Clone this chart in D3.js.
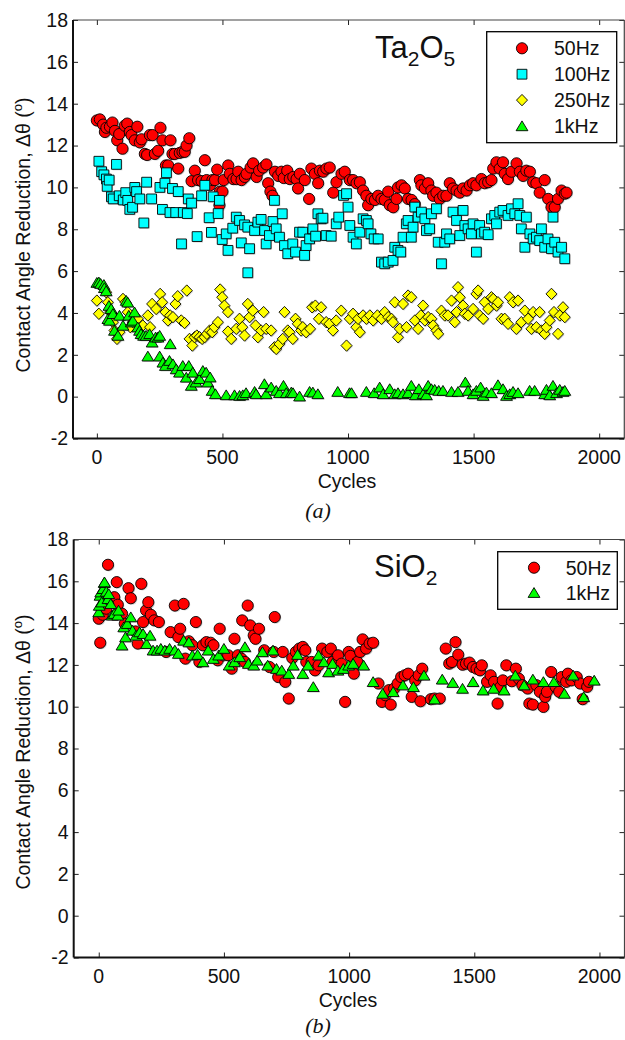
<!DOCTYPE html>
<html><head><meta charset="utf-8">
<script src="https://cdn.jsdelivr.net/npm/d3@7"></script>
<style>body{margin:0;background:#fff}svg{display:block}text{font-family:"Liberation Sans",Arial,Helvetica,sans-serif;fill:#111}</style>
</head><body>
<svg id="c" width="625" height="1040"></svg>
<script>
// ---------- data (cycle, contact angle reduction in degrees) ----------
const xTicks = [0, 500, 1000, 1500, 2000];
const yTicks = [-2, 0, 2, 4, 6, 8, 10, 12, 14, 16, 18];

const ta50 = [[0,13.2],[12,13.25],[25,13.0],[32,12.65],[38,12.85],[52,12.9],[62,13.1],[72,12.7],[81,12.25],[89,12.55],[102,11.85],[111,12.95],[121,13.05],[131,12.65],[138,12.5],[151,12.25],[161,12.9],[171,12.15],[178,12.3],[191,11.6],[200,11.55],[211,12.5],[222,12.5],[231,11.6],[244,11.75],[253,12.85],[261,12.25],[275,11.05],[284,11.05],[293,12.25],[301,11.6],[310,11.6],[324,10.9],[330,11.65],[341,11.7],[350,11.7],[357,12.0],[368,12.35],[377,10.3],[390,10.8],[403,10.35],[417,10.3],[430,11.3],[437,10.35],[450,10.1],[460,10.35],[470,10.35],[479,10.85],[488,9.15],[490,9.8],[500,9.8],[505,10.35],[523,11.05],[529,10.65],[543,10.4],[556,10.4],[563,10.75],[576,10.35],[589,10.5],[596,10.65],[612,10.95],[622,11.15],[636,10.5],[646,10.8],[662,10.95],[675,11.1],[682,10.2],[691,9.8],[699,9.6],[709,10.75],[722,10.55],[735,10.75],[744,10.45],[758,10.8],[768,10.4],[782,10.5],[795,10.4],[801,9.95],[808,10.65],[828,10.35],[845,9.45],[854,10.9],[868,10.65],[881,10.2],[888,10.8],[901,10.75],[914,10.9],[927,10.95],[941,9.75],[954,10.25],[974,10.65],[987,10.75],[1007,10.35],[1020,10.35],[1034,10.2],[1047,10.25],[1060,9.85],[1073,9.6],[1080,9.15],[1093,9.45],[1107,9.4],[1120,9.6],[1133,9.45],[1146,9.4],[1160,9.8],[1166,9.15],[1180,9.05],[1193,9.45],[1199,10.0],[1213,10.1],[1226,9.95],[1239,9.45],[1253,9.4],[1266,9.2],[1286,10.35],[1292,10.1],[1306,9.95],[1319,10.2],[1332,9.85],[1339,9.6],[1352,9.75],[1365,9.45],[1379,9.6],[1392,9.6],[1405,10.2],[1418,9.95],[1432,9.85],[1445,9.75],[1458,9.95],[1472,9.85],[1485,10.1],[1498,10.2],[1511,10.1],[1531,10.4],[1544,10.2],[1558,10.25],[1571,10.35],[1578,10.9],[1591,11.2],[1604,10.9],[1617,11.2],[1624,10.65],[1637,10.4],[1651,10.75],[1671,11.15],[1684,10.75],[1697,10.55],[1710,10.8],[1724,10.75],[1737,10.25],[1750,10.2],[1763,9.75],[1783,10.35],[1797,9.45],[1810,9.05],[1823,9.05],[1836,9.45],[1850,9.85],[1863,9.7],[1870,9.75]];

const ta100 = [[8,11.25],[19,10.75],[28,10.6],[38,10.4],[41,10.05],[49,10.35],[58,9.55],[65,9.45],[78,11.1],[89,9.6],[105,9.4],[115,9.75],[123,9.38],[131,8.95],[142,9.05],[151,10.0],[158,9.8],[171,9.45],[187,8.3],[198,10.25],[218,9.45],[251,10.0],[261,8.95],[271,10.2],[277,10.7],[291,8.8],[301,9.95],[314,8.8],[324,9.8],[337,7.3],[344,8.8],[360,8.75],[364,9.45],[377,9.25],[399,7.65],[417,9.6],[430,10.1],[447,8.55],[456,7.85],[463,9.55],[483,8.75],[488,9.38],[499,7.51],[515,7.78],[522,6.99],[541,8.05],[555,8.58],[568,8.42],[575,7.35],[588,8.21],[601,8.10],[608,7.07],[601,5.92],[628,7.94],[641,8.34],[654,8.47],[668,7.94],[674,7.30],[687,7.70],[701,8.37],[707,9.38],[714,8.02],[727,7.62],[738,8.74],[747,7.22],[760,6.83],[780,7.30],[791,6.91],[807,7.86],[820,7.86],[827,6.75],[833,7.22],[847,7.54],[860,8.02],[871,7.67],[880,8.74],[893,8.50],[900,8.53],[913,7.70],[933,7.67],[953,8.26],[963,8.58],[982,9.62],[994,9.70],[1000,9.06],[1007,8.18],[1020,7.62],[1033,7.30],[1047,7.86],[1060,8.50],[1073,8.42],[1080,8.26],[1091,7.78],[1104,7.54],[1120,7.54],[1133,6.43],[1146,6.35],[1160,6.43],[1179,6.51],[1186,7.14],[1199,6.99],[1210,6.91],[1219,7.62],[1232,8.26],[1239,8.42],[1252,7.62],[1259,8.10],[1266,9.06],[1279,8.58],[1292,8.82],[1306,8.50],[1312,7.94],[1325,8.02],[1332,8.74],[1352,8.98],[1359,7.38],[1372,6.35],[1385,7.38],[1392,7.78],[1405,7.54],[1418,8.82],[1432,8.42],[1445,7.70],[1458,8.90],[1465,8.18],[1478,8.02],[1491,7.78],[1498,8.26],[1511,6.91],[1524,8.18],[1531,7.78],[1544,7.86],[1558,7.74],[1571,8.50],[1584,8.66],[1591,8.26],[1604,8.82],[1617,8.90],[1637,8.66],[1651,8.98],[1664,8.74],[1677,9.22],[1684,8.66],[1690,8.02],[1704,7.14],[1710,8.58],[1724,7.78],[1737,7.54],[1750,7.62],[1763,7.46],[1770,8.02],[1783,7.14],[1796,7.54],[1810,7.07],[1816,8.58],[1823,7.38],[1836,6.91],[1850,7.14],[1863,6.59]];

const ta250 = [[0,4.59],[8,3.96],[37,4.99],[44,4.51],[53,4.04],[64,3.56],[70,3.16],[80,2.76],[90,3.08],[104,4.67],[114,4.51],[123,4.04],[133,3.32],[143,3.56],[163,3.72],[183,3.40],[203,3.88],[212,3.32],[220,4.43],[236,4.19],[252,4.91],[260,4.51],[273,4.04],[283,3.64],[292,3.88],[303,3.80],[313,4.43],[322,4.80],[336,3.64],[349,3.52],[358,5.07],[369,2.76],[380,2.44],[389,2.84],[398,2.92],[409,2.84],[419,2.76],[429,2.84],[438,3.00],[449,3.16],[459,3.08],[468,3.32],[482,3.56],[491,5.12],[499,4.75],[508,4.35],[522,4.04],[522,3.11],[535,2.76],[555,3.24],[568,3.72],[579,3.32],[588,2.92],[601,4.43],[608,3.80],[621,4.11],[632,3.40],[641,2.84],[654,3.16],[664,4.04],[674,3.24],[694,3.16],[707,2.36],[714,2.28],[727,2.52],[740,2.76],[747,4.04],[760,3.16],[767,3.08],[780,2.76],[791,3.72],[800,3.48],[813,3.16],[820,3.32],[833,3.08],[849,3.24],[857,4.27],[870,4.35],[884,3.72],[893,4.27],[913,3.56],[926,3.48],[940,3.16],[953,3.64],[973,4.11],[994,2.44],[1007,3.72],[1020,3.96],[1033,3.32],[1040,3.72],[1047,3.08],[1060,3.88],[1073,3.72],[1087,3.88],[1100,3.64],[1117,3.88],[1133,3.72],[1146,4.04],[1160,3.80],[1173,3.72],[1179,3.56],[1186,4.51],[1199,2.84],[1206,3.24],[1219,4.43],[1233,3.32],[1239,4.83],[1252,4.75],[1266,3.64],[1279,3.24],[1290,3.88],[1299,4.35],[1306,3.64],[1319,3.80],[1332,3.72],[1339,3.40],[1352,3.16],[1359,3.00],[1372,4.11],[1385,3.88],[1398,3.88],[1412,4.59],[1425,3.56],[1432,4.04],[1438,5.23],[1445,4.75],[1458,4.35],[1465,3.96],[1478,3.88],[1498,4.19],[1511,4.91],[1518,5.07],[1524,3.88],[1538,3.72],[1544,4.51],[1558,4.19],[1571,4.75],[1578,4.67],[1591,4.35],[1597,4.51],[1611,3.72],[1624,3.72],[1637,3.48],[1644,4.75],[1657,4.51],[1670,3.24],[1677,4.59],[1690,3.56],[1704,4.11],[1717,3.72],[1730,3.24],[1737,4.04],[1750,3.32],[1763,4.04],[1770,3.16],[1783,3.00],[1790,3.32],[1803,3.64],[1810,4.91],[1820,4.04],[1836,3.00],[1843,3.88],[1856,4.27],[1863,3.80]];

const ta1k = [[0,5.45],[8,5.47],[15,5.4],[28,5.35],[30,5.2],[37,5.05],[44,3.72],[48,4.35],[50,3.64],[57,4.2],[64,3.96],[70,3.16],[84,2.92],[90,3.88],[104,3.40],[117,4.59],[123,4.51],[127,3.88],[137,3.56],[143,3.64],[150,4.04],[163,3.32],[170,3.16],[176,3.0],[186,2.92],[196,2.92],[203,1.93],[210,3.0],[220,2.60],[234,2.84],[243,2.84],[250,2.92],[250,1.93],[263,1.64],[273,1.48],[289,1.72],[292,2.52],[303,1.56],[316,1.32],[329,1.16],[342,1.48],[356,0.92],[366,1.48],[376,0.53],[382,1.16],[395,0.69],[409,0.85],[422,1.24],[435,1.16],[442,0.69],[451,0.93],[459,0.29],[472,0.13],[515,0.08],[548,0.08],[568,0.05],[581,0.08],[594,0.18],[628,0.24],[634,0.13],[667,0.61],[674,0.13],[694,0.45],[714,0.29],[727,0.18],[743,0.53],[754,0.18],[774,0.21],[781,0.18],[807,0.02],[847,0.24],[860,0.21],[880,0.13],[959,0.24],[1006,0.18],[1014,0.18],[1073,0.24],[1104,0.18],[1126,0.45],[1140,0.13],[1166,0.37],[1186,0.13],[1199,0.18],[1219,0.13],[1239,0.18],[1252,0.53],[1268,0.08],[1282,0.37],[1299,0.13],[1312,0.08],[1319,0.53],[1332,0.37],[1345,0.34],[1361,0.29],[1378,0.29],[1412,0.24],[1438,0.24],[1467,0.69],[1478,0.29],[1498,0.13],[1511,0.29],[1528,0.45],[1538,0.05],[1551,0.21],[1571,0.18],[1597,0.56],[1617,0.37],[1631,0.05],[1644,0.13],[1657,0.24],[1677,0.18],[1723,0.29],[1743,0.29],[1783,0.13],[1790,0.34],[1803,0.08],[1816,0.53],[1830,0.18],[1843,0.34],[1856,0.24],[1863,0.29]];

const si50 = [[0,14.21],[6,13.06],[16,14.40],[30,14.69],[37,16.79],[48,15.08],[62,15.24],[72,15.96],[76,14.88],[93,14.45],[104,13.97],[119,15.67],[128,15.19],[147,13.60],[156,13.02],[170,15.88],[177,14.05],[189,14.61],[198,15.00],[208,14.40],[222,14.13],[240,14.05],[269,12.62],[287,13.57],[304,14.84],[318,13.33],[325,13.73],[339,14.92],[346,12.30],[360,13.13],[374,12.94],[388,14.05],[402,12.14],[416,12.94],[430,13.09],[447,13.06],[458,12.94],[475,12.22],[483,13.73],[497,12.46],[517,12.46],[531,11.82],[542,13.25],[556,12.46],[570,12.30],[573,14.13],[584,12.14],[595,14.84],[605,13.89],[619,13.41],[626,13.25],[640,13.73],[661,12.70],[682,11.90],[699,12.62],[703,14.29],[717,11.42],[735,12.62],[745,11.19],[759,10.39],[773,12.33],[787,12.62],[801,12.78],[815,12.86],[825,12.70],[829,12.14],[850,12.14],[864,11.74],[878,11.98],[892,12.78],[913,12.62],[927,12.78],[934,12.14],[956,12.46],[970,12.06],[984,10.23],[998,12.62],[1005,12.43],[1019,11.58],[1033,12.14],[1044,12.62],[1054,13.22],[1068,12.78],[1082,13.02],[1096,13.06],[1117,11.11],[1131,10.23],[1145,10.55],[1159,10.79],[1166,10.10],[1180,10.87],[1194,11.11],[1208,11.42],[1222,11.50],[1236,11.58],[1250,10.47],[1264,11.26],[1278,11.50],[1285,10.26],[1292,11.82],[1327,10.36],[1341,10.39],[1362,10.39],[1386,12.78],[1400,12.06],[1411,12.14],[1425,13.09],[1436,12.49],[1453,12.01],[1467,12.06],[1481,12.11],[1495,11.90],[1509,11.82],[1523,11.74],[1530,11.98],[1551,11.19],[1565,11.50],[1579,11.19],[1593,10.15],[1605,10.95],[1614,11.26],[1628,11.98],[1650,11.22],[1666,11.82],[1678,11.34],[1692,11.03],[1713,10.87],[1720,10.15],[1734,10.10],[1748,11.03],[1762,10.71],[1776,9.99],[1783,10.47],[1790,10.71],[1807,11.66],[1825,10.95],[1839,10.71],[1849,11.42],[1867,11.19],[1874,11.58],[1888,11.26],[1909,11.42],[1923,11.11],[1933,10.36],[1951,10.95],[1958,11.19]];

const si1k = [[0,14.53],[2,14.84],[5,15.32],[8,15.48],[12,15.0],[17,15.64],[22,15.93],[23,15.96],[30,15.51],[37,15.16],[40,15.40],[48,14.92],[54,14.37],[62,14.45],[76,14.37],[79,14.61],[93,12.94],[100,13.81],[107,13.33],[114,13.97],[128,14.29],[135,13.65],[149,13.41],[163,13.57],[177,13.49],[191,13.01],[205,13.41],[217,12.70],[233,12.70],[248,12.78],[264,12.70],[283,12.78],[304,12.70],[318,12.54],[339,13.17],[360,13.09],[374,12.46],[395,12.49],[416,12.14],[437,12.70],[458,12.30],[479,12.46],[500,12.78],[521,11.98],[542,12.14],[563,12.38],[584,12.86],[598,12.06],[619,11.98],[633,12.22],[654,12.62],[675,11.98],[696,12.70],[710,11.82],[731,11.74],[759,11.58],[777,11.98],[794,12.49],[815,11.58],[836,11.98],[857,10.95],[878,12.46],[899,12.14],[918,11.66],[934,12.06],[955,11.74],[977,11.82],[998,11.98],[1016,12.06],[1058,11.98],[1096,11.19],[1134,10.63],[1176,10.71],[1215,11.03],[1257,10.95],[1299,11.50],[1341,10.36],[1372,11.31],[1414,11.15],[1453,10.87],[1495,11.19],[1535,10.79],[1577,10.87],[1619,10.79],[1664,11.50],[1699,11.03],[1734,11.31],[1776,11.19],[1818,11.19],[1860,10.63],[1895,11.50],[1937,10.47],[1979,11.26]];

const topSeries = [
  {name: "50Hz", data: ta50, shape: "circle", color: "#ff0000"},
  {name: "100Hz", data: ta100, shape: "square", color: "#00ffff"},
  {name: "250Hz", data: ta250, shape: "diamond", color: "#ffff00"},
  {name: "1kHz", data: ta1k, shape: "triangle", color: "#00ff00"}
];
const botSeries = [
  {name: "50Hz", data: si50, shape: "circle", color: "#ff0000"},
  {name: "1kHz", data: si1k, shape: "triangle", color: "#00ff00"}
];

// ---------- drawing ----------
const svg = d3.select("#c");

function shapePath(shape) {
  if (shape === "circle") return d3.symbol(d3.symbolCircle, Math.PI * 5.6 * 5.6)();
  if (shape === "square") return "M-4.9,-4.9H4.9V4.9H-4.9Z";
  if (shape === "diamond") return "M0,-5.7L5.5,0L0,5.7L-5.5,0Z";
  return "M0,-5.1L5.9,4.7L-5.9,4.7Z";
}

function drawMarks(g, s, x, y) {
  const p = shapePath(s.shape);
  g.append("g").selectAll("path").data(s.data).join("path")
    .attr("d", p)
    .attr("transform", d => `translate(${x(d[0]) + 1},${y(d[1]) + 1})`)
    .attr("fill", "#777").attr("opacity", 0.35);
  g.append("g").selectAll("path").data(s.data).join("path")
    .attr("d", p)
    .attr("transform", d => `translate(${x(d[0])},${y(d[1])})`)
    .attr("fill", s.color).attr("stroke", "#000").attr("stroke-width", 0.9);
}

function panel(cfg) {
  const x = d3.scaleLinear().domain(cfg.xDom).range(cfg.xRange);
  const y = d3.scaleLinear().domain([-2, 18]).range(cfg.yRange);
  const [L, R] = cfg.xRange, [B, T] = cfg.yRange;
  const g = svg.append("g");

  // frame ticks (inside)
  g.append("g").attr("transform", `translate(0,${B})`)
    .call(d3.axisBottom(x).tickValues(xTicks).tickSize(-5).tickFormat(""))
    .call(a => a.select(".domain").remove());
  g.append("g").attr("transform", `translate(0,${T})`)
    .call(d3.axisTop(x).tickValues(xTicks).tickSize(-5).tickFormat(""))
    .call(a => a.select(".domain").remove());
  g.append("g").attr("transform", `translate(${L},0)`)
    .call(d3.axisLeft(y).tickValues(yTicks).tickSize(-5).tickFormat(""))
    .call(a => a.select(".domain").remove());
  g.append("g").attr("transform", `translate(${R},0)`)
    .call(d3.axisRight(y).tickValues(yTicks).tickSize(-5).tickFormat(""))
    .call(a => a.select(".domain").remove());
  g.selectAll(".tick line").attr("stroke", "#222").attr("stroke-width", 1);

  // frame lines
  g.append("line").attr("x1", L).attr("x2", R).attr("y1", T).attr("y2", T).attr("stroke", "#444").attr("stroke-width", 1.2);
  g.append("line").attr("x1", R).attr("x2", R).attr("y1", T).attr("y2", B).attr("stroke", "#444").attr("stroke-width", 1.2);
  g.append("line").attr("x1", L).attr("x2", R).attr("y1", B).attr("y2", B).attr("stroke", "#111").attr("stroke-width", 2);
  g.append("line").attr("x1", L).attr("x2", L).attr("y1", T).attr("y2", B).attr("stroke", "#111").attr("stroke-width", 2);

  // tick labels
  g.append("g").selectAll("text").data(xTicks).join("text")
    .attr("x", d => x(d)).attr("y", B + 25.5).attr("text-anchor", "middle")
    .attr("font-size", 19.5).text(d => d);
  g.append("g").selectAll("text").data(yTicks).join("text")
    .attr("x", L - 5).attr("y", d => y(d) + 6.8).attr("text-anchor", "end")
    .attr("font-size", 19.5).text(d => d);

  // axis titles
  g.append("text").attr("x", cfg.cyclesX).attr("y", B + 49.5).attr("text-anchor", "middle")
    .attr("font-size", 19.5).text("Cycles");
  const yl = g.append("text").attr("transform", `translate(29.5,${cfg.yLabelC}) rotate(-90)`)
    .attr("text-anchor", "middle").attr("font-size", 19.5);
  yl.append("tspan").text("Contact Angle Reduction, \u0394\u03b8 (");
  yl.append("tspan").attr("font-size", 13).attr("dy", -8).text("o");
  yl.append("tspan").attr("dy", 8).text(")");

  // panel caption
  g.append("text").attr("x", 318).attr("y", cfg.capY).attr("text-anchor", "middle")
    .attr("font-style", "italic").attr("font-size", 22)
    .style("font-family", "'Liberation Serif','Times New Roman',serif").text(cfg.caption);

  // material label
  const ml = g.append("text").attr("x", cfg.matX).attr("y", cfg.matY).attr("font-size", 31);
  cfg.material.forEach(([t, sub]) => {
    if (sub) ml.append("tspan").attr("font-size", 21).attr("dy", 8).text(t);
    else ml.append("tspan").attr("dy", ml.selectAll("tspan").size() ? -8 : 0).text(t);
  });

  // data
  cfg.series.forEach(s => drawMarks(g, s, x, y));

  // legend
  const lg = g.append("g");
  lg.append("rect").attr("x", cfg.leg.x).attr("y", cfg.leg.y).attr("width", cfg.leg.w).attr("height", cfg.leg.h)
    .attr("fill", "#fff").attr("stroke", "#000").attr("stroke-width", 1.3);
  cfg.series.forEach((s, i) => {
    const cy = cfg.leg.row0 + i * cfg.leg.dy;
    lg.append("path").attr("d", shapePath(s.shape))
      .attr("transform", `translate(${cfg.leg.mx},${cy})`)
      .attr("fill", s.color).attr("stroke", "#000").attr("stroke-width", 0.9);
    lg.append("text").attr("x", cfg.leg.tx).attr("y", cy + 7).attr("font-size", 19.5).text(s.name);
  });
}

panel({
  xDom: [-95, 2100], xRange: [73, 624.3], yRange: [438.5, 20],
  cyclesX: 347, yLabelC: 235, caption: "(a)", capY: 518,
  material: [["Ta"], ["2", true], ["O"], ["5", true]], matX: 375, matY: 66,
  series: topSeries,
  leg: {x: 486.7, y: 31.7, w: 130, h: 111, row0: 48.3, dy: 25.9, mx: 522, tx: 554}
});

panel({
  xDom: [-100, 2100], xRange: [73.7, 624.5], yRange: [957.5, 539.5],
  cyclesX: 348, yLabelC: 752, caption: "(b)", capY: 1033,
  material: [["SiO"], ["2", true]], matX: 374, matY: 585,
  series: botSeries,
  leg: {x: 497.7, y: 551.7, w: 119.6, h: 57.6, row0: 567.7, dy: 25, mx: 534, tx: 565.7}
});
</script>
</body></html>
